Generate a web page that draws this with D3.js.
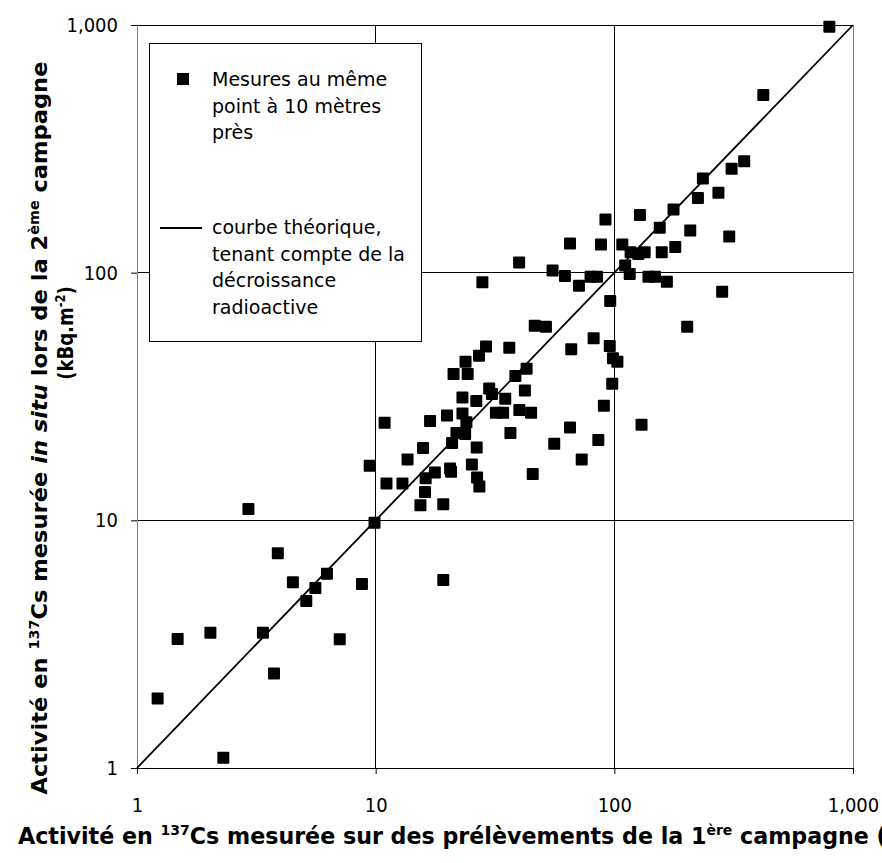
<!DOCTYPE html>
<html lang="fr">
<head>
  <meta charset="UTF-8">
  <title>Activité en 137Cs : 1ère campagne / 2ème campagne</title>
  <script src="https://cdn.jsdelivr.net/npm/d3@7"></script>
  <style>
    body {
      margin: 0;
      background: #fff;
    }

    svg {
      display: block;
      font-family: 'DejaVu Sans', sans-serif;
    }

    .axis text {
      font-family: 'DejaVu Sans Condensed', 'DejaVu Sans', sans-serif;
      font-stretch: condensed;
      font-size: 20px;
      fill: #000;
    }

    .axis line {
      stroke: #000;
    }

    .grid line {
      stroke: #000;
      stroke-width: 1px;
      shape-rendering: crispEdges;
    }

    .title {
      font-weight: bold;
      fill: #000;
    }

    .legend text {
      font-size: 19px;
      fill: #000;
    }
  </style>
</head>
<body>
<div id="chart"></div>
<script>
  // activité 137Cs (kBq.m-2), 1ère campagne (prélèvements) et 2ème campagne (in situ)
  const campagne1 = [
    1.22, 1.48, 2.03, 2.30, 3.37, 3.75, 4.50, 5.12, 5.59, 6.25,
    7.07, 8.76, 19.2, 2.93, 3.89, 9.89, 9.44, 10.9, 11.1, 12.95,
    16.9, 15.8, 13.6, 16.2, 17.7, 16.1, 15.4, 19.2, 19.9, 23.1,
    21.2, 24.3, 23.8, 27.1, 29.0, 36.3, 46.4, 51.7, 66.0, 81.9,
    95.7, 96.1, 98.7, 103, 98.0, 90.4, 85.7, 73.0, 65.2, 56.0,
    45.5, 36.7, 42.2, 42.9, 38.5, 34.9, 29.9, 30.7, 26.4, 23.1,
    40.0, 44.8, 31.9, 34.2, 24.0, 21.8, 23.7, 20.9, 26.5, 25.3,
    26.6, 27.2, 20.5, 20.7, 202, 130, 796, 421, 350, 310,
    235, 273, 224, 177, 303, 208, 155, 128, 91.8, 65.2,
    87.9, 108, 117, 126, 134, 158, 180, 39.9, 28.0, 55.1,
    62.1, 71.1, 79.5, 84.6, 111, 116, 139, 148, 166, 283
  ];
  const campagne2 = [
    1.91, 3.32, 3.52, 1.10, 3.52, 2.41, 5.62, 4.72, 5.33, 6.09,
    3.31, 5.53, 5.74, 11.1, 7.37, 9.78, 16.6, 24.8, 14.1, 14.1,
    25.2, 19.6, 17.6, 14.8, 15.6, 13.0, 11.5, 11.6, 26.5, 27.0,
    39.0, 39.0, 43.7, 46.2, 50.3, 49.8, 61.0, 60.5, 49.1, 54.3,
    50.6, 76.9, 45.1, 43.7, 35.6, 29.0, 21.1, 17.6, 23.7, 20.4,
    15.4, 22.5, 33.4, 40.9, 38.3, 31.0, 34.1, 32.4, 30.3, 31.3,
    27.9, 27.2, 27.2, 27.2, 24.9, 22.5, 22.3, 20.5, 19.7, 16.8,
    14.9, 13.7, 16.2, 15.7, 60.5, 24.3, 985, 522, 282, 263,
    240, 210, 200, 180, 140, 148, 152, 171, 164, 131,
    130, 130, 121, 119, 121, 121, 127, 110, 91.5, 102,
    97.0, 88.5, 96.3, 96.3, 107, 98.8, 96.3, 96.3, 92.0, 83.8
  ];

  // courbe théorique
  const courbeX = [1, 1000];
  const courbeY = [1, 1000];

  const decades = [1, 10, 100, 1000];
  const legendMesures = ['Mesures au même', 'point à 10 mètres', 'près'];
  const legendCourbe = ['courbe théorique,', 'tenant compte de la', 'décroissance', 'radioactive'];

  const width = 882,
        height = 863,
        margin = { top: 25, right: 29, bottom: 95, left: 137 },
        markerSize = 12;

  const svg = d3.select('#chart')
    .append('svg')
    .attr('width', width)
    .attr('height', height);

  const x = d3.scaleLog()
    .domain([1, 1000])
    .range([margin.left, width - margin.right]);

  const y = d3.scaleLog()
    .domain([1, 1000])
    .range([height - margin.bottom, margin.top]);

  // grille
  const grid = svg.append('g').attr('class', 'grid');

  grid.selectAll('line.h')
    .data(decades.slice(1))
    .enter().append('line')
    .attr('class', 'h')
    .attr('x1', x.range()[0])
    .attr('x2', x.range()[1])
    .attr('y1', d => y(d))
    .attr('y2', d => y(d));

  grid.selectAll('line.v')
    .data(decades.slice(1, -1))
    .enter().append('line')
    .attr('class', 'v')
    .attr('x1', d => x(d))
    .attr('x2', d => x(d))
    .attr('y1', y.range()[0])
    .attr('y2', y.range()[1]);

  // bords gauche / droite du cadre
  grid.selectAll('line.frame')
    .data([x.range()[0], x.range()[1]])
    .enter().append('line')
    .attr('class', 'frame')
    .attr('x1', d => d)
    .attr('x2', d => d)
    .attr('y1', y.range()[0])
    .attr('y2', y.range()[1])
    .style('stroke', '#808080');

  grid.append('line')
    .attr('x1', x.range()[0])
    .attr('x2', x.range()[1])
    .attr('y1', y.range()[0])
    .attr('y2', y.range()[0]);

  // axes
  const fmt = d3.format(',');

  const xAxis = svg.append('g')
    .attr('class', 'axis')
    .attr('transform', `translate(0,${y.range()[0]})`)
    .call(d3.axisBottom(x).tickValues(decades).tickFormat(fmt).tickSize(6).tickPadding(24));
  xAxis.select('.domain').remove();

  const yAxis = svg.append('g')
    .attr('class', 'axis')
    .attr('transform', `translate(${x.range()[0]},0)`)
    .call(d3.axisLeft(y).tickValues(decades).tickFormat(fmt).tickSize(6).tickPadding(13));
  yAxis.select('.domain').remove();

  // courbe théorique
  const line = d3.line()
    .x(d => x(d[0]))
    .y(d => y(d[1]));

  svg.append('path')
    .datum(d3.zip(courbeX, courbeY))
    .attr('d', line)
    .attr('fill', 'none')
    .attr('stroke', '#000')
    .attr('stroke-width', 1.8);

  // mesures
  svg.append('g')
    .selectAll('rect')
    .data(d3.zip(campagne1, campagne2))
    .enter().append('rect')
    .attr('x', d => x(d[0]) - markerSize / 2)
    .attr('y', d => y(d[1]) - markerSize / 2)
    .attr('width', markerSize)
    .attr('height', markerSize)
    .attr('rx', 1)
    .attr('fill', '#000');

  // légende
  const legend = svg.append('g').attr('class', 'legend');

  legend.append('rect')
    .attr('x', 149.5)
    .attr('y', 43.5)
    .attr('width', 272)
    .attr('height', 298)
    .attr('fill', '#fff')
    .attr('stroke', '#000');

  legend.append('rect')
    .attr('x', 183 - markerSize / 2)
    .attr('y', 79 - markerSize / 2)
    .attr('width', markerSize)
    .attr('height', markerSize)
    .attr('fill', '#000');

  legend.append('line')
    .attr('x1', 160)
    .attr('x2', 202)
    .attr('y1', 228)
    .attr('y2', 228)
    .attr('stroke', '#000')
    .attr('stroke-width', 1.8);

  legend.selectAll('text.m')
    .data(legendMesures)
    .enter().append('text')
    .attr('class', 'm')
    .attr('x', 212)
    .attr('y', (d, i) => 86 + i * 26.5)
    .text(d => d);

  legend.selectAll('text.c')
    .data(legendCourbe)
    .enter().append('text')
    .attr('class', 'c')
    .attr('x', 212)
    .attr('y', (d, i) => 234 + i * 26.7)
    .text(d => d);

  // titre axe X (coupé au bord droit, comme l'original)
  const xTitle = svg.append('text')
    .attr('class', 'title')
    .attr('x', 18)
    .attr('y', 844)
    .style('font-size', '22.2px');
  xTitle.append('tspan').text('Activité en ');
  xTitle.append('tspan').attr('dy', -9).style('font-size', '14px').text('137');
  xTitle.append('tspan').attr('dy', 9).text('Cs mesurée sur des prélèvements de la 1');
  xTitle.append('tspan').attr('dy', -9).style('font-size', '14px').text('ère');
  xTitle.append('tspan').attr('dy', 9).text(' campagne (kBq.m');
  xTitle.append('tspan').attr('dy', -9).style('font-size', '14px').text('-2');
  xTitle.append('tspan').attr('dy', 9).text(')');

  // titre axe Y
  const yTitle = svg.append('text')
    .attr('class', 'title')
    .attr('transform', 'translate(47,428) rotate(-90)')
    .attr('text-anchor', 'middle')
    .attr('textLength', 733)
    .attr('lengthAdjust', 'spacingAndGlyphs')
    .style('font-size', '22px');
  yTitle.append('tspan').text('Activité en ');
  yTitle.append('tspan').attr('dy', -8).style('font-size', '14px').text('137');
  yTitle.append('tspan').attr('dy', 8).text('Cs mesurée ');
  yTitle.append('tspan').style('font-style', 'italic').text('in situ');
  yTitle.append('tspan').text('  lors de la 2');
  yTitle.append('tspan').attr('dy', -8).style('font-size', '14px').text('ème');
  yTitle.append('tspan').attr('dy', 8).text(' campagne');

  const yTitle2 = svg.append('text')
    .attr('class', 'title')
    .attr('transform', 'translate(73,333) rotate(-90) scale(0.82,1)')
    .attr('text-anchor', 'middle')
    .style('font-size', '22px');
  yTitle2.append('tspan').text('(kBq.m');
  yTitle2.append('tspan').attr('dy', -8).style('font-size', '14px').text('-2');
  yTitle2.append('tspan').attr('dy', 8).text(')');
</script>
</body>
</html>
